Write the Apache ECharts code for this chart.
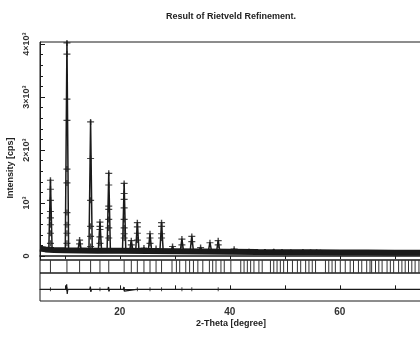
<!DOCTYPE html>
<html><head><meta charset="utf-8">
<script src="https://cdn.jsdelivr.net/npm/echarts@6/dist/echarts.min.js"></script>
<style>html,body{margin:0;padding:0;background:#fff}#c{width:420px;height:339px}</style>
</head><body><div id="c"></div>
<script>
const titleText = 'Result of Rietveld Refinement.';
const xName = '2-Theta [degree]';
const yName = 'Intensity [cps]';
const xTicks = [10, 20, 30, 40, 50, 60, 70, 80];
const xLabelValues = [20, 40, 60, 80];
const yTicks = [0, 1000, 2000, 3000, 4000];
const yTickText = ['0', '10³', '2×10³', '3×10³', '4×10³'];
const yMinorTicks = [200, 400, 600, 800, 1200, 1400, 1600, 1800, 2200, 2400, 2600, 2800, 3200, 3400, 3600, 3800];

// background level of the profile (2θ, cps)
const bgTheta = [5.5, 6.5, 8, 10, 13, 16, 20, 25, 30, 35, 40, 45, 50, 55, 60, 65, 70, 75, 80, 85.5];
const bgCps   = [140, 125, 115, 110, 105, 100, 98, 95, 90, 85, 80, 75, 72, 70, 68, 66, 64, 62, 60, 60];

// reflections seen in the profile: position, calculated top, foot level
const peakTheta = [7.4, 10.4, 12.7, 14.7, 16.4, 18.0, 20.8, 22.1, 23.2, 24.4, 25.5, 26.6, 27.6, 29.6, 31.3, 33.1, 34.7, 36.4, 37.9, 40.8, 43.5, 45.0, 46.4, 48.0, 49.5, 51.1, 53.3, 54.7, 55.8, 56.5];
const peakTop   = [1450, 4100, 310, 2560, 650, 1580, 1380, 300, 640, 160, 430, 150, 640, 190, 330, 380, 170, 260, 300, 140, 130, 125, 125, 130, 120, 115, 120, 115, 115, 110];
const peakFoot  = [120, 112, 105, 103, 100, 100, 98, 97, 96, 95, 95, 94, 93, 90, 88, 87, 85, 83, 82, 80, 78, 76, 75, 73, 72, 71, 70, 70, 70, 69];
// observed intensities on the flanks of the stronger peaks
const obsOnPeaks = [
  [1430, 1260, 1050, 840, 720, 590, 430, 240],
  [4020, 3810, 2960, 2560, 1640, 1380, 820, 590, 430, 240],
  [300, 230],
  [2530, 1840, 1050, 560, 370, 180],
  [640, 560, 500, 360, 240],
  [1560, 1340, 940, 880, 690, 530, 340],
  [1370, 1180, 1070, 910, 690, 530, 420, 340],
  [290, 210],
  [630, 550, 430, 300],
  [150],
  [420, 340, 240],
  [140],
  [630, 560, 420, 340],
  [180],
  [320, 210],
  [370, 270],
  [160],
  [250],
  [290, 210],
  [130],
  [], [], [], [], [], [], [], [], [], []
];

// Bragg reflection positions (2θ)
const braggTheta = [7.4, 10.4, 12.7, 14.7, 16.4, 18.0, 20.8, 22.1, 23.2, 24.4, 25.5, 26.6, 27.6, 29.5, 30.3, 30.9, 32.0, 32.7, 33.4, 34.2, 35.1, 36.3, 36.9, 37.5, 38.4, 39.0, 40.2, 42.0, 42.6, 43.2, 43.8, 44.4, 45.3, 45.9, 47.4, 48.0, 48.6, 49.2, 49.8, 50.5, 51.4, 52.3, 52.9, 53.8, 54.4, 55.0, 55.6, 57.4, 58.0, 58.6, 59.2, 60.1, 61.0, 61.9, 62.5, 63.4, 64.0, 64.9, 65.5, 65.8, 66.5, 67.1, 67.7, 68.6, 69.2, 69.8, 70.7, 71.3, 71.9, 72.5, 73.1, 73.7, 74.4, 75.2, 76.1, 77.0, 78.2, 79.1];

// difference curve (obs - calc) excursions
const diffTheta = [7.4, 10.4, 14.7, 16.4, 18.0, 20.8, 23.2, 25.5, 27.6, 31.3, 33.1, 37.9];
const diffUp    = [40, 110, 60, 30, 50, 50, 30, 20, 30, 15, 15, 15];
const diffDown  = [-35, -100, -55, -25, -45, -40, -25, -20, -25, -15, -15, -15];

// ---- build series data from the arrays ----
const bgData = bgTheta.map((t, i) => [t, bgCps[i]]);
const calcData = [];
peakTheta.forEach((t, i) => {
  calcData.push([t - 0.3, peakFoot[i]], [t, peakTop[i]], [t + 0.3, peakFoot[i]], [t + 0.31, '-']);
});
const obsData = [];
peakTheta.forEach((t, i) => obsOnPeaks[i].forEach(v => obsData.push([t, v])));
const braggData = braggTheta.map(t => [t, 1]);
const diffData = [[5.5, 0]];
diffTheta.forEach((t, i) => {
  diffData.push([t - 0.15, 0], [t - 0.05, diffUp[i]], [t + 0.05, diffDown[i]], [t + 0.15, 0]);
});
diffData.push([85.5, 0]);
const diffMarks = diffTheta.map(t => [t, 0]);

const plus = 'path://M4,0h2v4h4v2h-4v4h-2v-4h-4v-2h4z';
const ink = '#1a1a1a';
const font = 'Liberation Sans';
const X0 = 5.5, X1 = 85.5;
const Y0 = -75, Y1 = 4038;

const chart = echarts.init(document.getElementById('c'), null, {renderer: 'canvas'});
const gridBase = {left: 40, width: 440, show: true, borderColor: ink, borderWidth: 1,
                  outerBoundsMode: 'none', containLabel: false};
chart.setOption({
  animation: false,
  backgroundColor: '#fff',
  grid: [
    Object.assign({}, gridBase, {top: 42, height: 218}),
    Object.assign({}, gridBase, {top: 260, height: 13}),
    Object.assign({}, gridBase, {top: 273, height: 28})
  ],
  xAxis: [
    {gridIndex: 0, type: 'value', min: X0, max: X1, position: 'top',
     axisLine: {show: true, lineStyle: {color: ink, width: 1.5}},
     axisTick: {show: true, inside: true, length: 3, customValues: xTicks, lineStyle: {color: ink}},
     axisLabel: {show: false}, splitLine: {show: false}},
    {gridIndex: 1, type: 'value', min: X0, max: X1, show: false},
    {gridIndex: 2, type: 'value', min: X0, max: X1, position: 'bottom',
     axisLine: {show: true, lineStyle: {color: ink, width: 1}},
     axisTick: {show: true, inside: true, length: 4, customValues: xTicks, lineStyle: {color: ink}},
     axisLabel: {show: true, customValues: xLabelValues, margin: 6, color: '#333',
                 fontFamily: font, fontSize: 10, fontWeight: 'bold'},
     splitLine: {show: false}}
  ],
  yAxis: [
    {gridIndex: 0, type: 'value', min: Y0, max: Y1,
     axisLine: {show: true, lineStyle: {color: ink}},
     axisTick: {show: true, inside: true, length: 5, customValues: yTicks, lineStyle: {color: ink}},
     axisLabel: {show: true, customValues: yTicks, rotate: 90, margin: 9, color: '#333',
                 fontFamily: font, fontSize: 9, fontWeight: 'bold',
                 formatter: v => yTickText[yTicks.indexOf(v)]},
     splitLine: {show: false}},
    {gridIndex: 0, type: 'value', min: Y0, max: Y1, position: 'left',
     axisLine: {show: false},
     axisTick: {show: true, inside: true, length: 3, customValues: yMinorTicks, lineStyle: {color: ink}},
     axisLabel: {show: false}, splitLine: {show: false}},
    {gridIndex: 1, type: 'value', min: 0, max: 1, show: false},
    {gridIndex: 2, type: 'value', min: -250, max: 350, show: false}
  ],
  graphic: [
    {type: 'text', x: 231, y: 17, style: {text: titleText, textAlign: 'center', textVerticalAlign: 'middle',
      font: 'bold 9px "Liberation Sans"', fill: '#222'}},
    {type: 'text', x: 231, y: 324, style: {text: xName, textAlign: 'center', textVerticalAlign: 'middle',
      font: 'bold 9px "Liberation Sans"', fill: '#222'}},
    {type: 'text', x: 11, y: 168, rotation: Math.PI / 2, style: {text: yName, textAlign: 'center', textVerticalAlign: 'middle',
      font: 'bold 9px "Liberation Sans"', fill: '#222'}}
  ],
  series: [
    {type: 'line', xAxisIndex: 0, yAxisIndex: 0, data: bgData, showSymbol: false, smooth: false,
     lineStyle: {color: ink, width: 6}, z: 2},
    {type: 'line', xAxisIndex: 0, yAxisIndex: 0, data: calcData, showSymbol: false, connectNulls: false,
     lineStyle: {color: ink, width: 1.5}, z: 3},
    {type: 'scatter', xAxisIndex: 0, yAxisIndex: 0, data: obsData, symbol: plus, symbolSize: [7, 6],
     itemStyle: {color: ink}, z: 4},
    {type: 'custom', xAxisIndex: 1, yAxisIndex: 2, data: braggData, encode: {x: 0, y: 1}, clip: true,
     renderItem: (params, api) => {
       const a = api.coord([api.value(0), 0]);
       const b = api.coord([api.value(0), 1]);
       return {type: 'line', shape: {x1: a[0], y1: a[1], x2: b[0], y2: b[1]},
               style: {stroke: '#333', lineWidth: 1}};
     }},
    {type: 'line', xAxisIndex: 2, yAxisIndex: 3, data: diffData, showSymbol: false,
     lineStyle: {color: ink, width: 1.2}},
    {type: 'scatter', xAxisIndex: 2, yAxisIndex: 3, data: diffMarks, symbol: plus, symbolSize: [5, 4],
     itemStyle: {color: ink}}
  ]
});
</script></body></html>
